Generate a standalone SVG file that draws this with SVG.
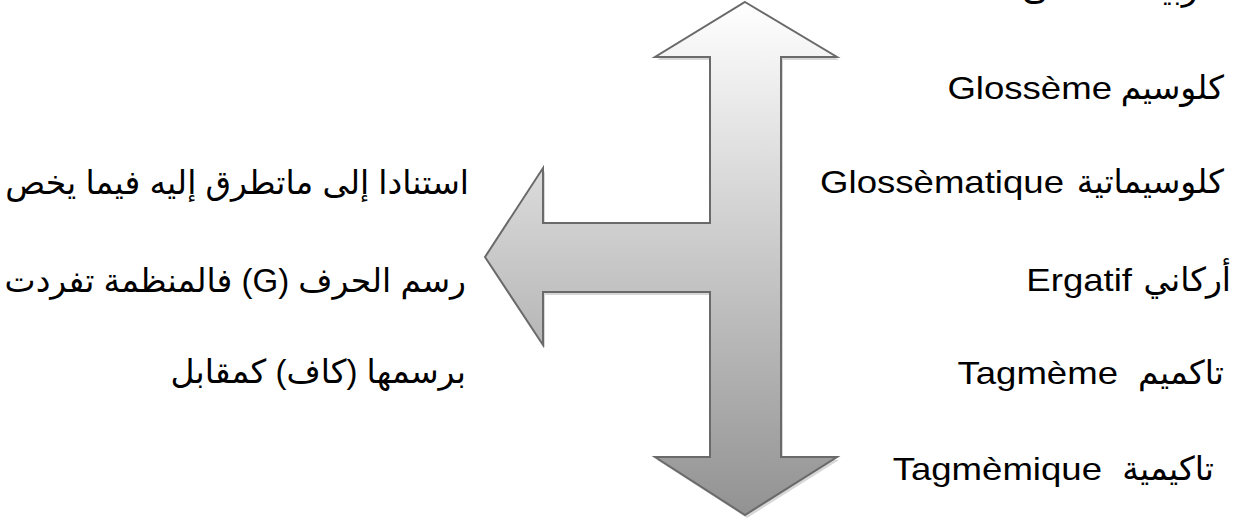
<svg xmlns="http://www.w3.org/2000/svg" width="1253" height="526" viewBox="0 0 1253 526">
<style>
text{font-family:"Liberation Sans","DejaVu Sans",sans-serif;fill:#000}
.ar{direction:rtl;font-size:33px}
.arl{direction:rtl;font-size:33px}
.la{font-size:31px}
</style>
<defs>
<linearGradient id="g" x1="0" y1="0" x2="0" y2="1">
<stop offset="0" stop-color="#ffffff"/>
<stop offset="1" stop-color="#929292"/>
</linearGradient>
</defs>
<g id="arrow">
<polygon points="745,2 837,57 781,57 781,457 837,457 745,515 655,457 710,457 710,292 543,292 543,345 485,257 543,168 543,223 710,223 710,57 655,57" fill="#bdbdbd" opacity="0.6" transform="translate(2,3)"/>
<polygon points="745,2 837,57 781,57 781,457 837,457 745,515 655,457 710,457 710,292 543,292 543,345 485,257 543,168 543,223 710,223 710,57 655,57" fill="url(#g)" stroke="#6a6a6a" stroke-width="2" stroke-linejoin="miter"/>
</g>
<g id="heading">
<text x="1235" y="0" class="ar" text-anchor="start">العربية الفصحى:</text>
</g>
<g id="right-terms">
<text x="1224" y="99" class="ar" text-anchor="start">كلوسيم</text>
<text class="la" text-anchor="end" transform="translate(1112,99) scale(1.18,1)">Glossème</text>
<text x="1224" y="193" class="ar" text-anchor="start">كلوسيماتية</text>
<text class="la" text-anchor="end" transform="translate(1064,193) scale(1.18,1)">Glossèmatique</text>
<text x="1231" y="291" class="ar" text-anchor="start">أركاني</text>
<text class="la" text-anchor="end" transform="translate(1132,291) scale(1.18,1)">Ergatif</text>
<text x="1224" y="384" class="ar" text-anchor="start">تاكميم</text>
<text class="la" text-anchor="end" transform="translate(1118,384) scale(1.18,1)">Tagmème</text>
<text x="1214" y="480" class="ar" text-anchor="start">تاكيمية</text>
<text class="la" text-anchor="end" transform="translate(1102,480) scale(1.18,1)">Tagmèmique</text>
</g>
<g id="left-note">
<text x="469" y="194" class="arl" text-anchor="start">استنادا إلى ماتطرق إليه فيما يخص</text>
<text x="466" y="292" class="arl" text-anchor="start">رسم الحرف (G) فالمنظمة تفردت</text>
<text x="466" y="383" class="arl" text-anchor="start">برسمها (كاف) كمقابل</text>
</g>
</svg>
